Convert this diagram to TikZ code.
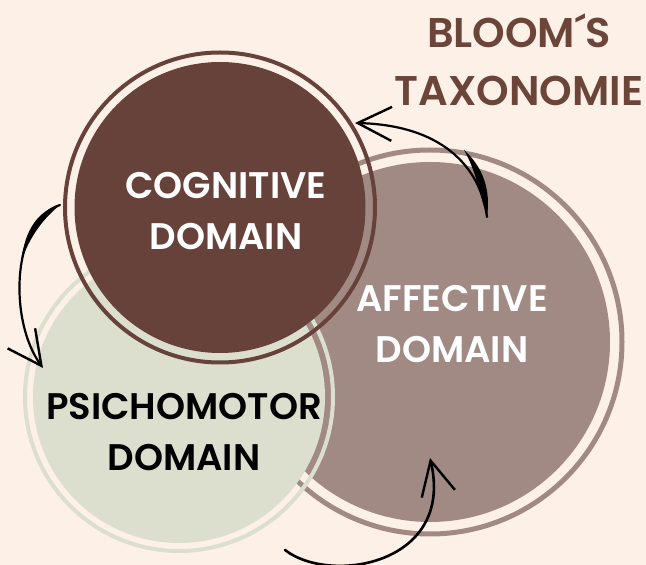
\documentclass[tikz,border=0pt]{standalone}
\usepackage{fontspec}
\setmainfont{Poppins}[BoldFont={Poppins SemiBold}]
\usepackage{tikz}
\usetikzlibrary{arrows.meta}
\definecolor{bgcream}{RGB}{253,240,230}
\definecolor{cogbrown}{RGB}{102,66,58}
\definecolor{affmauve}{RGB}{161,138,131}
\definecolor{psysage}{RGB}{220,223,205}
\definecolor{titlebrown}{RGB}{107,69,57}

\begin{document}
\begin{tikzpicture}[x=1pt,y=1pt,
  domain/.style={circle,fill=#1,inner sep=0pt},
  ring/.style={draw=#1,line width=4pt},
  domtxt/.style={align=center,font=\bfseries\fontsize{37}{51}\selectfont},
  handarr/.style={line width=2.2pt,line cap=round,
                  -{Straight Barb[length=34pt,width=34pt,line width=2.4pt]}},
  brush/.style={fill=black}
]
\useasboundingbox (0,0) rectangle (646,565);
\fill[bgcream] (0,0) rectangle (646,565);

% the three domains, back to front
\node[domain=affmauve,minimum size=360pt] (aff) at (430,223) {};
\draw[ring=affmauve,line width=5pt] (aff.center) circle[radius=192];
\node[domain=psysage,minimum size=292pt] (psy) at (179,168) {};
\draw[ring=psysage] (psy.center) circle[radius=154];
\node[domain=cogbrown,minimum size=291pt] (cog) at (220,357.5) {};
\draw[ring=cogbrown] (cog.center) circle[radius=155];

\node[domtxt,white] (cogtxt) at (226,354) {COGNITIVE\\DOMAIN};
\node[domtxt,white] (afftxt) at (452,240.5) {AFFECTIVE\\DOMAIN};
\node[domtxt,black] (psytxt) at (184,132.5) {PSICHOMOTOR\\DOMAIN};
\node[titlebrown,align=center,font=\bfseries\fontsize{41.5}{58}\selectfont]
  (title) at (519,505) {BLOOM´S\\TAXONOMIE};

% hand drawn arrows
\coordinate (afftail) at (487,348);
\coordinate (coghead) at (355,442);
\coordinate (cogtail) at (60,360);
\coordinate (psyhead) at (43,197);
\coordinate (psytail) at (285,15);
\coordinate (affhead) at (430,107);

\draw[handarr] (afftail) .. controls (480,400) and (440,440) .. (coghead);
\fill[brush] (afftail) .. controls (491,375) and (483,398) .. (464,415)
  .. controls (475,396) and (479,375) .. (afftail);

\draw[handarr] (cogtail) .. controls (12,345) and (8,245) .. (psyhead);
\fill[brush] (cogtail) .. controls (38,354) and (25,336) .. (21,303)
  .. controls (30,330) and (45,348) .. (cogtail);

\draw[handarr,line width=2.6pt] (psytail) .. controls (330,-20) and (455,0) .. (affhead);
\end{tikzpicture}
\end{document}
